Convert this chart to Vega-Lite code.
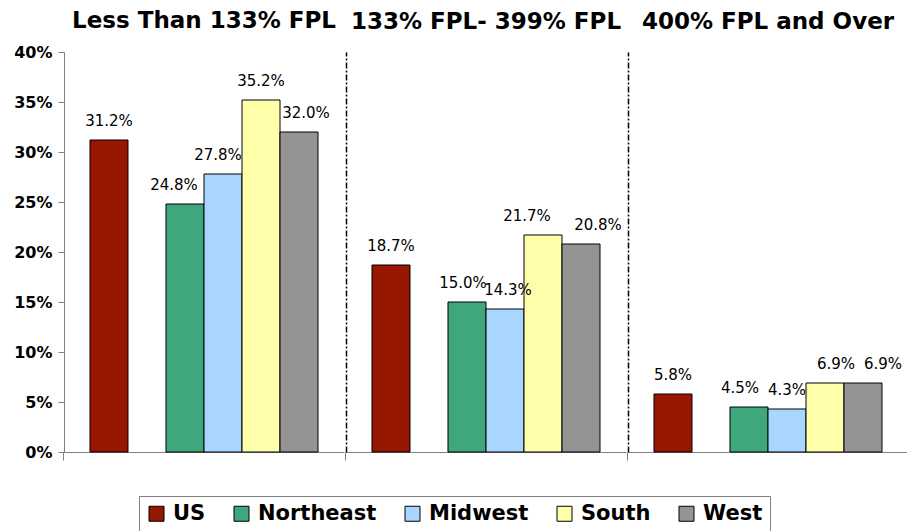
{
  "$schema": "https://vega.github.io/schema/vega-lite/v6.json",
  "padding": {"left": 13, "top": 10, "right": 2, "bottom": 0},
  "background": "white",
  "data": {"values": [
    {"group": "Less Than 133% FPL", "series": "US", "value": 0.312},
    {"group": "Less Than 133% FPL", "series": "Northeast", "value": 0.248},
    {"group": "Less Than 133% FPL", "series": "Midwest", "value": 0.278},
    {"group": "Less Than 133% FPL", "series": "South", "value": 0.352},
    {"group": "Less Than 133% FPL", "series": "West", "value": 0.320},
    {"group": "133% FPL- 399% FPL", "series": "US", "value": 0.187},
    {"group": "133% FPL- 399% FPL", "series": "Northeast", "value": 0.150},
    {"group": "133% FPL- 399% FPL", "series": "Midwest", "value": 0.143},
    {"group": "133% FPL- 399% FPL", "series": "South", "value": 0.217},
    {"group": "133% FPL- 399% FPL", "series": "West", "value": 0.208},
    {"group": "400% FPL and Over", "series": "US", "value": 0.058},
    {"group": "400% FPL and Over", "series": "Northeast", "value": 0.045},
    {"group": "400% FPL and Over", "series": "Midwest", "value": 0.043},
    {"group": "400% FPL and Over", "series": "South", "value": 0.069},
    {"group": "400% FPL and Over", "series": "West", "value": 0.069}
  ]},
  "spacing": 0,
  "hconcat": [
    {
      "width": 280, "height": 400,
      "title": {"text": "Less Than 133% FPL", "fontSize": 23, "fontWeight": "bold", "font": "DejaVu Sans", "color": "black", "anchor": "middle", "frame": "group", "baseline": "alphabetic", "offset": -7},
      "transform": [{"filter": "datum.group === 'Less Than 133% FPL'"}],
      "layer": [
        {"mark": {"type": "bar", "stroke": "black", "strokeWidth": 1},
         "encoding": {
           "x": {"field": "series", "type": "nominal", "scale": {"domain": ["US", " ", "Northeast", "Midwest", "South", "West"], "paddingInner": 0, "paddingOuter": 0.684},
                 "axis": {"labels": false, "ticks": true, "values": ["US"], "bandPosition": -0.684, "tickColor": "#808080", "tickSize": 8, "domainColor": "#808080", "title": null, "grid": false}},
           "y": {"field": "value", "type": "quantitative", "scale": {"domain": [0, 0.4]},
                 "axis": {"values": [0, 0.05, 0.1, 0.15, 0.2, 0.25, 0.3, 0.35, 0.4], "format": ".0%", "labelFont": "DejaVu Sans", "labelFontWeight": "bold", "labelFontSize": 16, "labelColor": "black", "tickColor": "#808080", "tickSize": 6, "domainColor": "#808080", "labelPadding": 6, "title": null, "grid": false}},
           "color": {"field": "series", "type": "nominal", "scale": {"domain": ["US", "Northeast", "Midwest", "South", "West"], "range": ["#961600", "#3EA77B", "#A9D6FF", "#FFFFAA", "#949494"]},
                     "legend": {"title": null, "orient": "none", "legendX": 75, "legendY": 444, "direction": "horizontal", "symbolType": "square", "symbolSize": 225, "symbolStrokeColor": "black", "symbolStrokeWidth": 1, "symbolOpacity": 1, "labelFont": "DejaVu Sans", "labelFontWeight": "bold", "labelFontSize": 21, "labelColor": "black", "strokeColor": "#808080", "padding": 7, "columnPadding": 25, "labelOffset": 6, "fillColor": "white"}}
         }},
        {"mark": {"type": "text", "baseline": "bottom", "dy": -11, "fontSize": 15, "font": "DejaVu Sans", "color": "black",
                  "dx": {"expr": "datum.series === 'Northeast' ? -11 : datum.series === 'Midwest' ? -5 : datum.series === 'West' ? 7 : 0"}},
         "encoding": {
           "x": {"field": "series", "type": "nominal"},
           "y": {"field": "value", "type": "quantitative"},
           "text": {"field": "value", "type": "quantitative", "format": ".1%"}
         }}
      ]
    },
    {
      "width": 280, "height": 400,
      "title": {"text": "133% FPL- 399% FPL", "fontSize": 23, "fontWeight": "bold", "font": "DejaVu Sans", "color": "black", "anchor": "middle", "frame": "group", "baseline": "alphabetic", "offset": 0},
      "transform": [{"filter": "datum.group === '133% FPL- 399% FPL'"}],
      "layer": [
        {"mark": {"type": "bar", "stroke": "black", "strokeWidth": 1},
         "encoding": {
           "x": {"field": "series", "type": "nominal", "scale": {"domain": ["US", " ", "Northeast", "Midwest", "South", "West"], "paddingInner": 0, "paddingOuter": 0.684},
                 "axis": {"labels": false, "ticks": true, "values": ["US"], "bandPosition": -0.684, "tickColor": "#808080", "tickSize": 8, "domainColor": "#808080", "title": null, "grid": false}},
           "y": {"field": "value", "type": "quantitative", "scale": {"domain": [0, 0.4]},
                 "axis": {"labels": false, "ticks": false, "domainColor": "black", "domainDash": [6, 2, 2, 2], "domainWidth": 1.5, "title": null, "grid": false}},
           "color": {"field": "series", "type": "nominal", "scale": {"domain": ["US", "Northeast", "Midwest", "South", "West"], "range": ["#961600", "#3EA77B", "#A9D6FF", "#FFFFAA", "#949494"]}}
         }},
        {"mark": {"type": "text", "baseline": "bottom", "dy": -11, "fontSize": 15, "font": "DejaVu Sans", "color": "black",
                  "dx": {"expr": "datum.series === 'Northeast' ? -4 : datum.series === 'Midwest' ? 3 : datum.series === 'South' ? -16 : datum.series === 'West' ? 17 : 0"}},
         "encoding": {
           "x": {"field": "series", "type": "nominal"},
           "y": {"field": "value", "type": "quantitative"},
           "text": {"field": "value", "type": "quantitative", "format": ".1%"}
         }}
      ]
    },
    {
      "width": 280, "height": 400,
      "title": {"text": "400% FPL and Over", "fontSize": 23, "fontWeight": "bold", "font": "DejaVu Sans", "color": "black", "anchor": "middle", "frame": "group", "baseline": "alphabetic", "offset": 0},
      "transform": [{"filter": "datum.group === '400% FPL and Over'"}],
      "layer": [
        {"mark": {"type": "bar", "stroke": "black", "strokeWidth": 1},
         "encoding": {
           "x": {"field": "series", "type": "nominal", "scale": {"domain": ["US", " ", "Northeast", "Midwest", "South", "West"], "paddingInner": 0, "paddingOuter": 0.684},
                 "axis": {"labels": false, "ticks": true, "values": ["US"], "bandPosition": -0.684, "tickColor": "#808080", "tickSize": 8, "domainColor": "#808080", "title": null, "grid": false}},
           "y": {"field": "value", "type": "quantitative", "scale": {"domain": [0, 0.4]},
                 "axis": {"labels": false, "ticks": false, "domainColor": "black", "domainDash": [6, 2, 2, 2], "domainWidth": 1.5, "title": null, "grid": false}},
           "color": {"field": "series", "type": "nominal", "scale": {"domain": ["US", "Northeast", "Midwest", "South", "West"], "range": ["#961600", "#3EA77B", "#A9D6FF", "#FFFFAA", "#949494"]}}
         }},
        {"mark": {"type": "text", "baseline": "bottom", "dy": -11, "fontSize": 15, "font": "DejaVu Sans", "color": "black",
                  "dx": {"expr": "datum.series === 'Northeast' ? -9 : datum.series === 'South' ? 11 : datum.series === 'West' ? 20 : 0"}},
         "encoding": {
           "x": {"field": "series", "type": "nominal"},
           "y": {"field": "value", "type": "quantitative"},
           "text": {"field": "value", "type": "quantitative", "format": ".1%"}
         }}
      ]
    }
  ],
  "resolve": {"scale": {"x": "independent", "y": "independent", "color": "shared"}, "axis": {"x": "independent", "y": "independent"}},
  "config": {"view": {"stroke": null}, "font": "DejaVu Sans"}
}
